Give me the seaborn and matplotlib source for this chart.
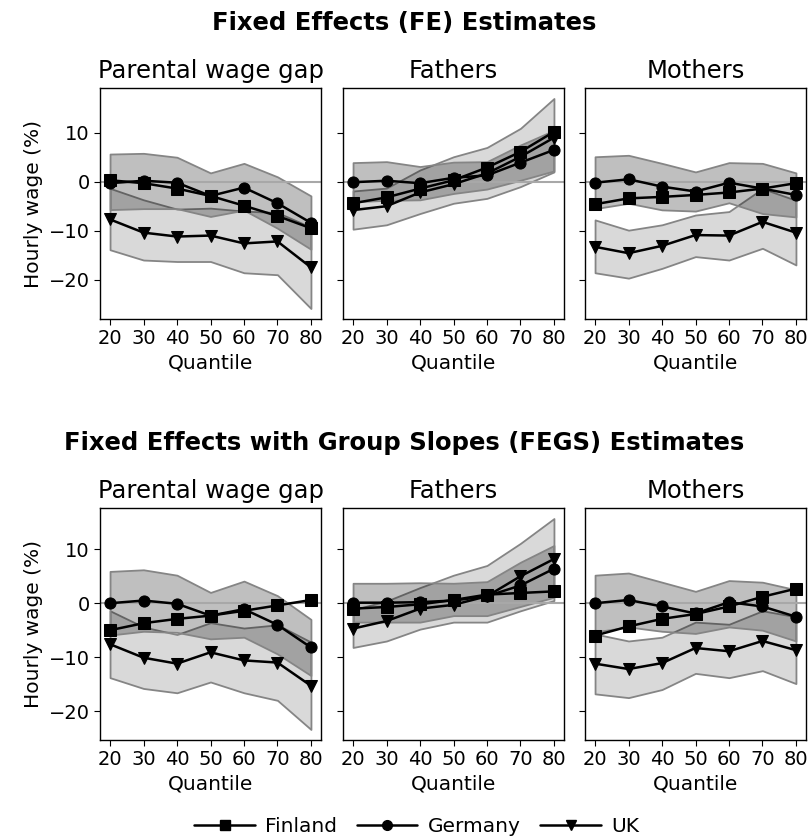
import matplotlib
matplotlib.use('Agg')
import matplotlib.pyplot as plt
from matplotlib.lines import Line2D
import seaborn as sns

# quantiles on the x axis
quantiles = [20, 30, 40, 50, 60, 70, 80]
countries = ['Finland', 'Germany', 'UK']
panel_titles = ['Parental wage gap', 'Fathers', 'Mothers']
row_titles = ['Fixed Effects (FE) Estimates',
              'Fixed Effects with Group Slopes (FEGS) Estimates']

# --- FE: parental wage gap
fe_gap_fin = [0.3, -0.3, -1.4, -2.9, -4.9, -7.0, -9.5]
fe_gap_ger = [-0.3, 0.2, -0.2, -2.9, -1.2, -4.4, -8.4]
fe_gap_ger_hi = [5.65, 5.8, 5.0, 1.8, 3.75, 1.0, -2.9]
fe_gap_ger_lo = [-5.7, -5.5, -5.5, -7.1, -5.8, -9.5, -13.8]
fe_gap_uk = [-7.7, -10.4, -11.2, -11.0, -12.6, -12.2, -17.5]
fe_gap_uk_hi = [-1.35, -3.7, -5.6, -5.4, -6.0, -6.3, -9.3]
fe_gap_uk_lo = [-13.9, -16.0, -16.3, -16.3, -18.6, -19.0, -25.9]

# --- FE: fathers
fe_fat_fin = [-4.4, -3.2, -1.4, 0.3, 2.9, 6.1, 10.2]
fe_fat_ger = [-0.1, 0.2, -0.3, 0.8, 1.3, 3.9, 6.5]
fe_fat_ger_hi = [3.9, 4.1, 3.1, 4.0, 4.1, 7.5, 10.5]
fe_fat_ger_lo = [-4.1, -3.8, -3.7, -2.4, -1.5, 0.3, 2.2]
fe_fat_uk = [-5.8, -5.0, -2.2, -0.5, 1.7, 5.1, 9.0]
fe_fat_uk_hi = [-1.9, -1.3, 2.4, 5.1, 7.0, 10.9, 17.0]
fe_fat_uk_lo = [-9.7, -8.8, -6.5, -4.4, -3.4, -1.0, 2.0]

# --- FE: mothers
fe_mot_fin = [-4.6, -3.4, -3.1, -2.7, -2.2, -1.4, -0.3]
fe_mot_ger = [-0.2, 0.5, -1.0, -2.0, -0.2, -1.4, -2.7]
fe_mot_ger_hi = [5.1, 5.4, 3.75, 2.0, 3.9, 3.75, 1.8]
fe_mot_ger_lo = [-5.5, -4.4, -5.75, -6.0, -4.3, -6.5, -7.2]
fe_mot_uk = [-13.3, -14.6, -13.1, -10.9, -11.0, -8.2, -10.4]
fe_mot_uk_hi = [-7.8, -9.9, -8.8, -6.8, -6.1, -1.4, -3.8]
fe_mot_uk_lo = [-18.6, -19.7, -17.7, -15.3, -16.0, -13.6, -17.0]

# --- FEGS: parental wage gap
fegs_gap_fin = [-5.0, -3.7, -2.9, -2.3, -1.4, -0.4, 0.6]
fegs_gap_ger = [0.0, 0.5, -0.1, -2.3, -1.1, -4.0, -8.2]
fegs_gap_ger_hi = [5.9, 6.2, 5.2, 2.0, 4.1, 1.4, -3.0]
fegs_gap_ger_lo = [-5.9, -5.2, -5.4, -6.6, -6.3, -9.4, -13.4]
fegs_gap_uk = [-7.6, -10.1, -11.2, -9.1, -10.6, -11.0, -15.3]
fegs_gap_uk_hi = [-1.4, -4.4, -5.8, -3.6, -4.6, -4.0, -7.2]
fegs_gap_uk_lo = [-13.8, -15.8, -16.6, -14.6, -16.6, -18.0, -23.4]

# --- FEGS: fathers
fegs_fat_fin = [-1.0, -0.7, -0.2, 0.6, 1.6, 1.9, 2.2]
fegs_fat_ger = [0.1, 0.1, 0.2, 0.5, 1.3, 3.3, 6.4]
fegs_fat_ger_hi = [3.7, 3.7, 3.8, 3.7, 4.0, 7.6, 10.7]
fegs_fat_ger_lo = [-3.5, -3.5, -3.5, -2.3, -2.3, -0.6, 1.1]
fegs_fat_uk = [-4.7, -3.3, -1.0, -0.3, 1.3, 5.0, 8.2]
fegs_fat_uk_hi = [-1.2, 0.4, 2.9, 5.2, 7.0, 11.1, 15.7]
fegs_fat_uk_lo = [-8.2, -7.0, -4.8, -3.5, -3.5, -1.4, 0.5]

# --- FEGS: mothers
fegs_mot_fin = [-6.0, -4.3, -2.9, -2.0, -0.6, 1.2, 2.7]
fegs_mot_ger = [0.0, 0.6, -0.6, -1.9, 0.2, -0.6, -2.5]
fegs_mot_ger_hi = [5.2, 5.6, 3.9, 2.2, 4.2, 3.9, 2.5]
fegs_mot_ger_lo = [-5.3, -4.4, -5.2, -5.6, -4.4, -5.0, -7.0]
fegs_mot_uk = [-11.2, -12.2, -11.1, -8.3, -8.9, -7.0, -8.7]
fegs_mot_uk_hi = [-5.7, -7.0, -6.3, -3.5, -3.9, -1.4, -2.5]
fegs_mot_uk_lo = [-16.8, -17.5, -16.0, -13.0, -13.8, -12.5, -14.9]

rows = [
    [
        (fe_gap_fin, fe_gap_ger, fe_gap_ger_lo, fe_gap_ger_hi, fe_gap_uk, fe_gap_uk_lo, fe_gap_uk_hi),
        (fe_fat_fin, fe_fat_ger, fe_fat_ger_lo, fe_fat_ger_hi, fe_fat_uk, fe_fat_uk_lo, fe_fat_uk_hi),
        (fe_mot_fin, fe_mot_ger, fe_mot_ger_lo, fe_mot_ger_hi, fe_mot_uk, fe_mot_uk_lo, fe_mot_uk_hi),
    ],
    [
        (fegs_gap_fin, fegs_gap_ger, fegs_gap_ger_lo, fegs_gap_ger_hi, fegs_gap_uk, fegs_gap_uk_lo, fegs_gap_uk_hi),
        (fegs_fat_fin, fegs_fat_ger, fegs_fat_ger_lo, fegs_fat_ger_hi, fegs_fat_uk, fegs_fat_uk_lo, fegs_fat_uk_hi),
        (fegs_mot_fin, fegs_mot_ger, fegs_mot_ger_lo, fegs_mot_ger_hi, fegs_mot_uk, fegs_mot_uk_lo, fegs_mot_uk_hi),
    ],
]

sns.set_style('ticks')
plt.rcParams['font.family'] = ['DejaVu Sans']
plt.rcParams['text.color'] = 'black'
plt.rcParams['axes.labelcolor'] = 'black'
plt.rcParams['axes.edgecolor'] = 'black'
plt.rcParams['xtick.color'] = 'black'
plt.rcParams['ytick.color'] = 'black'
plt.rcParams['axes.linewidth'] = 1.0

markers = {'Finland': 's', 'Germany': 'o', 'UK': 'v'}
msize = {'Finland': 8, 'Germany': 8, 'UK': 9}

fig = plt.figure(figsize=(8.09, 8.40), dpi=100)
H = 840.0
lefts = [100 / 809, 343 / 809, 585 / 809]
width = 221 / 809
row_box = [(1 - 319 / H, 231 / H), (1 - 740 / H, 232 / H)]
title_y = [1 - 23 / H, 1 - 443 / H]

for r, panels in enumerate(rows):
    bottom, height = row_box[r]
    first = None
    for c, (fin, ger, ger_lo, ger_hi, uk, uk_lo, uk_hi) in enumerate(panels):
        ax = fig.add_axes([lefts[c], bottom, width, height], sharey=first)
        if first is None:
            first = ax
        # confidence bands
        ax.fill_between(quantiles, uk_lo, uk_hi, facecolor=(0, 0, 0, 0.15),
                        edgecolor='#858585', lw=1.3, zorder=1)
        ax.fill_between(quantiles, ger_lo, ger_hi, facecolor=(0, 0, 0, 0.25),
                        edgecolor='#858585', lw=1.3, zorder=1)
        ax.axhline(0, color='#a8a8a8', lw=1.5, zorder=1.5)
        for name, vals in zip(countries, [fin, ger, uk]):
            sns.lineplot(x=quantiles, y=vals, ax=ax, color='black', lw=1.8,
                         marker=markers[name], markersize=msize[name],
                         markeredgecolor='black', zorder=3)
        ax.set_xticks(quantiles)
        ax.set_yticks([-20, -10, 0, 10])
        ax.tick_params(labelsize=14, length=4)
        ax.set_title(panel_titles[c], fontsize=17.5, pad=7)
        ax.set_xlabel('Quantile', fontsize=14.5)
        if c == 0:
            ax.set_ylabel('Hourly wage (%)', fontsize=14.5)
        else:
            ax.set_ylabel('')
            ax.tick_params(labelleft=False)
        for s in ax.spines.values():
            s.set_visible(True)
    fig.text(0.5, title_y[r], row_titles[r], ha='center', va='center',
             fontsize=17.5, fontweight='bold')

handles = [Line2D([], [], color='black', lw=1.8, marker=markers[n], markersize=7)
           for n in countries]
fig.legend(handles, countries, loc='center', bbox_to_anchor=(0.515, 1 - 827 / H),
           ncol=3, frameon=False, fontsize=14.5, handlelength=3,
           handletextpad=0.5, columnspacing=1.0)

fig.savefig('out.png', dpi=100)
